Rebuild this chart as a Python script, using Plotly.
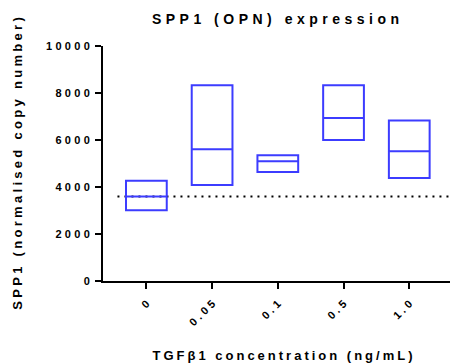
import plotly.graph_objects as go

# TGF-beta1 doses and SPP1 copy-number summaries (min / mean / max)
concentrations = ["0", "0.05", "0.1", "0.5", "1.0"]
spp1_min = [3013, 4081, 4637, 6004, 4380]
spp1_mean = [3598, 5607, 5094, 6931, 5521]
spp1_max = [4265, 8325, 5350, 8325, 6829]

# dotted reference line at the untreated mean
baseline = spp1_mean[0]

y_ticks = [0, 2000, 4000, 6000, 8000, 10000]

FONT = "Liberation Sans, Arial, Helvetica, sans-serif"
BLUE = "#3c3cff"

fig = go.Figure()

# floating bars: min-to-max box with a line at the mean
fig.add_trace(go.Box(
    x=concentrations,
    q1=spp1_min,
    median=spp1_mean,
    q3=spp1_max,
    lowerfence=spp1_min,
    upperfence=spp1_max,
    width=0.62,
    whiskerwidth=0,
    fillcolor="rgba(0,0,0,0)",
    line=dict(color=BLUE, width=2),
    boxpoints=False,
    hoverinfo="skip",
    showlegend=False,
))

fig.add_shape(
    type="line", xref="x", yref="y",
    x0=-0.44, x1=4.62, y0=baseline, y1=baseline,
    line=dict(color="black", width=2, dash="2px,5px"),
    layer="below",
)

fig.update_layout(
    width=450, height=363,
    margin=dict(l=103, r=0, t=46, b=82),
    paper_bgcolor="white",
    plot_bgcolor="white",
    font=dict(family=FONT, color="black"),
    title=dict(
        text="SPP1 (OPN) expression",
        font=dict(family=FONT, size=14, color="black", weight="bold"),
        xref="container", yref="container",
        x=275.5 / 450, y=1 - 19 / 363,
        xanchor="center", yanchor="middle",
    ),
    xaxis=dict(
        type="category",
        categoryorder="array",
        categoryarray=concentrations,
        range=[-0.66, 4.62],
        showline=True, linecolor="black", linewidth=2,
        ticks="outside", ticklen=6, tickwidth=2, tickcolor="black",
        tickangle=-45,
        ticklabelstandoff=4,
        tickfont=dict(family=FONT, size=11, color="black", weight="bold"),
        showgrid=False, zeroline=False,
        title=dict(
            text="TGFβ1 concentration (ng/mL)",
            font=dict(family=FONT, size=13, color="black", weight="bold"),
            standoff=35,
        ),
        automargin=False,
    ),
    yaxis=dict(
        range=[0, 10000],
        tickvals=y_ticks,
        ticktext=[str(v) for v in y_ticks],
        showline=True, linecolor="black", linewidth=2,
        ticks="outside", ticklen=6, tickwidth=2, tickcolor="black",
        ticklabelstandoff=3,
        tickfont=dict(family=FONT, size=11, color="black", weight="bold"),
        showgrid=False, zeroline=False,
        title=dict(
            text="SPP1 (normalised copy number)",
            font=dict(family=FONT, size=13, color="black", weight="bold"),
            standoff=34,
        ),
        automargin=False,
    ),
)

# Widen letter spacing on all chart text, then shift each label along its
# baseline so it keeps the anchor (start / middle / end) plotly gave it.
spacing_js = """
var gd = document.getElementById('{plot_id}');
function spaceText(sel, px, extra) {
  gd.querySelectorAll(sel).forEach(function (t) {
    var anchor = t.getAttribute('text-anchor') || 'start';
    var b0 = t.getBBox();
    t.style.letterSpacing = px + 'px';
    var b1 = t.getBBox();
    var w1 = b1.width - px;
    var dx;
    if (anchor === 'end') dx = (b0.x + b0.width) - (b1.x + w1);
    else if (anchor === 'middle') dx = (b0.x + b0.width / 2) - (b1.x + w1 / 2);
    else dx = b0.x - b1.x;
    t.setAttribute('dx', dx + (extra || 0));
  });
}
function applySpacing() {
  spaceText('.gtitle', 4.5, 0);
  spaceText('.xtitle', 3.0, 6);
  spaceText('.ytitle', 3.3, 0);
  spaceText('.xtick text', 3.3, 0);
  spaceText('.ytick text', 3.3, 0);
}
setTimeout(function () {
  (document.fonts ? document.fonts.ready : Promise.resolve()).then(applySpacing);
}, 150);
"""

fig.write_html("out.html", post_script=spacing_js)
